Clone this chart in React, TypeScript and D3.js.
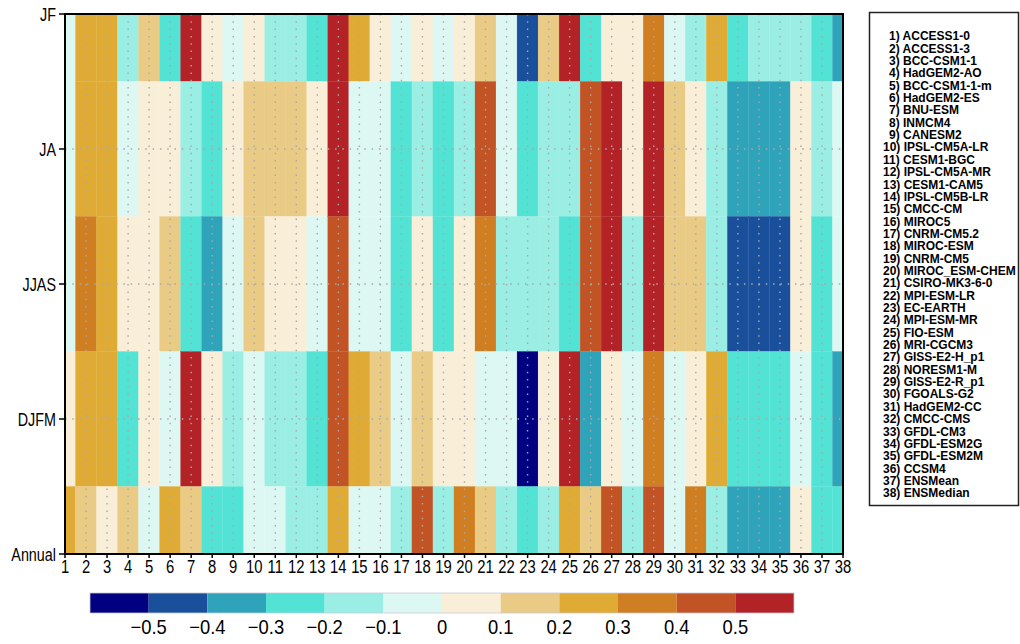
import React from 'react';
import * as d3 from 'd3';

const seasons = ['JF', 'JA', 'JJAS', 'DJFM', 'Annual'];

const models = [
  'ACCESS1-0', 'ACCESS1-3', 'BCC-CSM1-1', 'HadGEM2-AO', 'BCC-CSM1-1-m', 'HadGEM2-ES',
  'BNU-ESM', 'INMCM4', 'CANESM2', 'IPSL-CM5A-LR', 'CESM1-BGC', 'IPSL-CM5A-MR',
  'CESM1-CAM5', 'IPSL-CM5B-LR', 'CMCC-CM', 'MIROC5', 'CNRM-CM5.2', 'MIROC-ESM',
  'CNRM-CM5', 'MIROC_ESM-CHEM', 'CSIRO-MK3-6-0', 'MPI-ESM-LR', 'EC-EARTH', 'MPI-ESM-MR',
  'FIO-ESM', 'MRI-CGCM3', 'GISS-E2-H_p1', 'NORESM1-M', 'GISS-E2-R_p1', 'FGOALS-G2',
  'HadGEM2-CC', 'CMCC-CMS', 'GFDL-CM3', 'GFDL-ESM2G', 'GFDL-ESM2M', 'CCSM4',
  'ENSMean', 'ENSMedian',
];

const valJF = [
  -0.03, 0.26, 0.24, -0.14, 0.16, -0.23, 0.61, 0.04, -0.06, 0.07,
  -0.12, -0.17, -0.26, 0.57, 0.22, 0.05, -0.02, 0.08, -0.07, 0.03,
  0.13, -0.04, -0.44, 0.18, 0.55, -0.21, 0.06, 0.02, 0.33, -0.08,
  -0.11, 0.28, -0.27, -0.16, -0.13, -0.18, -0.22, -0.36,
];
const valJA = [
  -0.05, 0.27, 0.25, -0.03, 0.06, 0.04, -0.12, -0.24, 0.07, 0.14,
  0.17, 0.12, 0.03, 0.62, -0.06, -0.02, -0.28, -0.15, -0.21, -0.13,
  0.44, -0.07, -0.26, -0.18, -0.11, 0.47, 0.56, 0.08, 0.59, 0.16,
  0.05, -0.14, -0.37, -0.34, -0.38, 0.02, -0.16, -0.04,
];
const valJJAS = [
  -0.08, 0.36, 0.23, 0.05, 0.07, 0.13, -0.22, -0.33, -0.05, 0.18,
  0.04, 0.09, -0.03, 0.46, -0.07, -0.04, -0.25, 0.06, -0.27, 0.03,
  0.34, -0.12, -0.17, -0.14, -0.23, 0.43, 0.54, -0.19, 0.57, 0.15,
  0.11, -0.16, -0.46, -0.48, -0.43, 0.08, -0.26, -0.09,
];
const valDJFM = [
  0.04, 0.28, 0.26, -0.24, 0.06, -0.04, 0.63, 0.07, -0.13, -0.06,
  -0.17, -0.15, -0.22, 0.48, 0.24, 0.17, -0.08, 0.14, 0.03, 0.05,
  -0.02, -0.07, -0.61, 0.09, 0.58, -0.32, 0.02, -0.05, 0.37, -0.03,
  0.06, 0.21, -0.28, -0.26, -0.21, -0.09, -0.23, -0.35,
];
const valAnnual = [
  0.22, 0.13, 0.08, 0.16, -0.04, 0.27, 0.12, -0.21, -0.24, -0.06,
  -0.03, -0.14, -0.11, 0.25, -0.07, -0.02, -0.18, 0.42, -0.12, 0.33,
  0.19, -0.16, -0.27, -0.13, 0.26, 0.14, 0.41, -0.15, 0.44, -0.05,
  0.31, -0.17, -0.36, -0.39, -0.34, 0.04, -0.25, -0.22,
];

const levels = [-0.5, -0.4, -0.3, -0.2, -0.1, 0, 0.1, 0.2, 0.3, 0.4, 0.5];
const levelLabels = ['\u22120.5', '\u22120.4', '\u22120.3', '\u22120.2', '\u22120.1', '0', '0.1', '0.2', '0.3', '0.4', '0.5'];
const palette = [
  '#000080', '#1a4f9c', '#2fa3ba', '#53e3d5', '#9aeee4', '#ddf7f3',
  '#f9eed8', '#e9cb86', '#dfab34', '#cf7e22', '#c25325', '#b22227',
];

const FONT = "'Liberation Sans', Arial, sans-serif";

export default function App() {
  const rows = [valJF, valJA, valJJAS, valDJFM, valAnnual];
  const x = d3.scaleLinear().domain([1, models.length]).range([65, 843]);
  const y = d3.scaleLinear().domain([0, seasons.length - 1]).range([14, 554]);
  const color = d3.scaleThreshold<number, string>().domain(levels).range(palette);
  const [x0, x1] = x.range();
  const [y0, y1] = y.range();
  const clampX = (v: number) => Math.max(x0, Math.min(x1, v));
  const clampY = (v: number) => Math.max(y0, Math.min(y1, v));

  const cells: JSX.Element[] = [];
  rows.forEach((vals, r) => {
    vals.forEach((v, c) => {
      const i = c + 1;
      const left = clampX(x(i - 0.5));
      const right = clampX(x(i + 0.5));
      const top = clampY(y(r - 0.5));
      const bot = clampY(y(r + 0.5));
      cells.push(
        <rect key={`c${r}-${c}`} x={left} y={top} width={right - left} height={bot - top}
          fill={color(v)} stroke={color(v)} strokeWidth={0.3} />
      );
    });
  });

  const xTicks = d3.range(1, models.length + 1);
  const cb = d3.scaleLinear().domain([0, palette.length]).range([90, 794]);

  return (
    <svg width={1020} height={644} style={{ position: 'absolute', left: 0, top: 0, background: '#fff' }}
      fontFamily={FONT}>
      {cells}
      {/* dotted grid */}
      {xTicks.slice(1, -1).map((t) => (
        <line key={`gx${t}`} x1={x(t)} x2={x(t)} y1={y0} y2={y1} stroke="#a9a9a9"
          strokeWidth={1.4} strokeDasharray="1.5 5.8" />
      ))}
      {seasons.slice(1, -1).map((s, k) => (
        <line key={`gy${s}`} x1={x0} x2={x1} y1={y(k + 1)} y2={y(k + 1)} stroke="#a9a9a9"
          strokeWidth={1.4} strokeDasharray="1.5 5.8" />
      ))}
      <rect x={x0} y={y0} width={x1 - x0} height={y1 - y0} fill="none" stroke="#000" strokeWidth={2} />
      {/* x axis */}
      {xTicks.map((t) => (
        <g key={`xt${t}`}>
          <line x1={x(t)} x2={x(t)} y1={y1} y2={y1 + 4} stroke="#000" strokeWidth={1.5} />
          <text transform={`translate(${x(t)},573) scale(0.78,1)`} textAnchor="middle" fontSize={19}
            fill="#000">{t}</text>
        </g>
      ))}
      {/* y axis */}
      {seasons.map((s, k) => (
        <g key={`yt${s}`}>
          <line x1={x0 - 6} x2={x0} y1={y(k)} y2={y(k)} stroke="#000" strokeWidth={1.5} />
          <text transform={`translate(56,${y(k) + 6.5}) scale(0.82,1)`} textAnchor="end" fontSize={17.5}
            fill="#000">{s}</text>
        </g>
      ))}
      {/* colorbar */}
      {palette.map((p, k) => (
        <rect key={`cb${k}`} x={cb(k)} y={593} width={cb(k + 1) - cb(k)} height={20} fill={p} />
      ))}
      <rect x={cb(0)} y={593} width={cb(palette.length) - cb(0)} height={20} fill="none" stroke="#c8c8d8" strokeWidth={0.8} />
      {levelLabels.map((l, k) => (
        <text key={`cl${k}`} transform={`translate(${cb(k + 1)},634) scale(0.92,1)`} textAnchor="middle"
          fontSize={20} fill="#000">{l}</text>
      ))}
      {/* legend */}
      <rect x={869.5} y={12.5} width={149} height={493} fill="#fff" stroke="#222" strokeWidth={1.5} />
      {models.map((m, k) => (
        <text key={`lg${k}`} x={k < 9 ? 889 : 883} y={36 + k * 12.35 + 4.3} fontSize={12}
          fontWeight="bold" fill="#000">
          {`${k + 1}) ${m}`}
        </text>
      ))}
    </svg>
  );
}
